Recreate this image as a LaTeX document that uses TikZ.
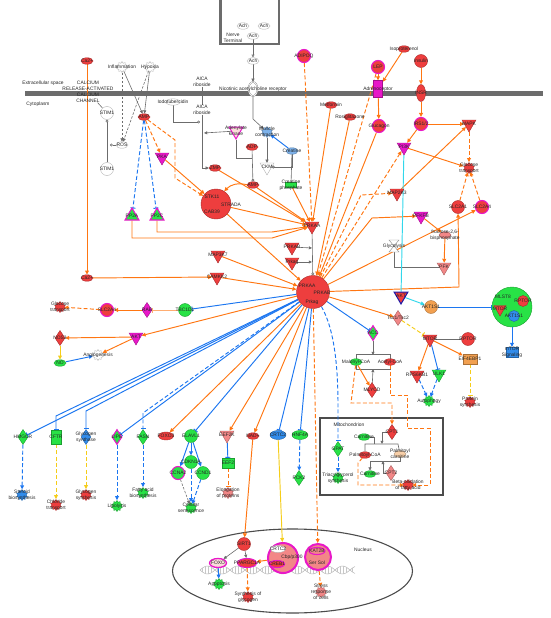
\documentclass[tikz,border=0pt]{standalone}
\usepackage{fontspec}
\setmainfont{Liberation Sans}
\usetikzlibrary{shapes.geometric,arrows.meta}
\pgfdeclarelayer{bg}
\pgfdeclarelayer{edges}
\pgfsetlayers{bg,edges,main}
\definecolor{cRed}{RGB}{238,62,62}
\definecolor{cPink}{RGB}{242,135,135}
\definecolor{cGreen}{RGB}{40,226,70}
\definecolor{cBlue}{RGB}{50,140,235}
\definecolor{cLBlue}{RGB}{125,178,235}
\definecolor{cOrng}{RGB}{242,160,80}
\definecolor{cMag}{RGB}{232,24,200}
\definecolor{cGray}{RGB}{108,108,108}
\colorlet{cPale}{cPink!30}
\colorlet{cPeach}{cOrng!50}
\definecolor{lOrng}{RGB}{255,118,18}
\definecolor{lBlue}{RGB}{28,118,240}
\definecolor{lYell}{RGB}{245,205,25}
\definecolor{lCyan}{RGB}{50,215,235}
\definecolor{lNavy}{RGB}{25,25,170}
\begin{document}
\begin{tikzpicture}[x=1pt,y=-1pt,
  every node/.style={font=\fontsize{4.9}{5.8}\selectfont,inner sep=0pt,text=black!85},
  lbl/.style={label={[align=center]center:{#1}}},
  chem/.style={ellipse,draw=#1!70!black,fill=#1,minimum width=12pt,minimum height=6.5pt},
  gene/.style={circle,draw=#1!70!black,fill=#1,minimum size=13pt},
  kin/.style={regular polygon,regular polygon sides=3,shape border rotate=180,draw=#1!70!black,fill=#1,minimum size=16pt},
  phos/.style={regular polygon,regular polygon sides=3,draw=#1!70!black,fill=#1,minimum size=16pt},
  enz/.style={diamond,draw=#1!70!black,fill=#1,minimum width=10pt,minimum height=15pt},
  chan/.style={rectangle,draw=#1!70!black,fill=#1,minimum width=11pt,minimum height=8pt},
  func/.style={star,star points=10,star point ratio=1.4,draw=#1!70!black,fill=#1,minimum size=11pt},
  cplx/.style={circle,draw=#1!70!black,fill=#1},
  mag/.style={draw=cMag,line width=1.1pt},
  ln/.style={line width=0.95pt},
  oa/.style={ln,draw=lOrng,-{Triangle[length=4pt,width=3.8pt]}},
  oad/.style={oa,dash pattern=on 4pt off 2.2pt},
  oid/.style={ln,draw=lOrng,dash pattern=on 4pt off 2.2pt,-{Bar[width=5pt]}},
  ba/.style={ln,draw=lBlue,-{Triangle[length=4pt,width=3.8pt]}},
  bad/.style={ba,dash pattern=on 4pt off 2.2pt},
  bi/.style={ln,draw=lBlue,-{Bar[width=5pt]}},
  bid/.style={bi,dash pattern=on 4pt off 2.2pt},
  ya/.style={ln,draw=lYell,-{Triangle[length=4pt,width=3.8pt]}},
  yad/.style={ya,dash pattern=on 4pt off 2.2pt},
  yid/.style={ln,draw=lYell,dash pattern=on 4pt off 2.2pt,-{Bar[width=5pt]}},
  ca/.style={ln,draw=lCyan,-{Triangle[length=4pt,width=3.8pt]}},
  gl/.style={line width=0.6pt,draw=cGray},
  ga/.style={gl,-{Triangle[length=3.2pt,width=3pt]}},
  gad/.style={ga,dash pattern=on 2.5pt off 1.5pt},
  gc/.style={gl,-{Circle[open,length=2.8pt]}}]
  \useasboundingbox (0,0) rectangle (550,618);
  \begin{pgfonlayer}{bg}
    \fill[cGray] (25,90.5) rectangle (543,95.5);
    \draw[cGray,line width=2.4pt] (220.5,0) -- (220.5,44) -- (279,44) -- (279,0);
    \draw[black!70,line width=1.1pt] (292.5,571) ellipse [x radius=120,y radius=42];
    \draw[black!70,line width=1.1pt] (320,418) rectangle (443,495);
    \draw[black!30,line width=0.5pt] plot[domain=200:355,samples=120] (\x,{570+4*sin(12*(\x-200))});
    \draw[black!30,line width=0.5pt] plot[domain=200:355,samples=120] (\x,{570-4*sin(12*(\x-200))});
    \foreach \k in {202,205,...,353}
      \draw[black!22,line width=0.3pt] (\k,{570+4*sin(12*(\k-200))}) -- (\k,{570-4*sin(12*(\k-200))});
  \end{pgfonlayer}
  % outside and membrane
  \draw (233,38) node[align=center] (nterm){Nerve\\Terminal}
        (243,26) node[chem=white,lbl=Ach] (ach1){}
        (264,26) node[chem=white,lbl=Ach] (ach2){}
        (253,36) node[chem=white,lbl=Ach] (ach3){}
        (253,61) node[chem=white,lbl=Ach] (ach4){}
        (253,89) node[ellipse,draw=black!50,double,fill=white,minimum width=9pt,minimum height=14pt,lbl={Nicotinic acetylcholine receptor}] (nachr){}
        (43,83) node (ecs){Extracellular space}
        (38,104) node (cyto){Cytoplasm}
        (88,92) node[align=center] (crac){CALCIUM\\RELEASE-ACTIVATED\\CALCIUM\\CHANNEL}
        (87,61) node[chem=cRed,lbl=Ca2+] (ca1){}
        (122,67) node[func=white,lbl=Inflammation] (inflam){}
        (150,67) node[func=white,lbl=Hypoxia] (hypox){}
        (202,82) node[align=center] (aica1){AICA\\riboside}
        (304,56) node[gene=cRed,mag,lbl=ADIPOQ] (adipoq){}
        (378,67) node[gene=cRed,mag,lbl=LEP] (lep){}
        (404,49) node[chem=cRed,lbl=Isoproterenol] (iso){}
        (421,61) node[gene=cRed,lbl=Insulin] (insulin){}
        (378,89) node[chan=cMag,minimum width=9pt,minimum height=17pt,lbl=Adrenoceptor] (adrb){}
        (421,93) node[chem=cRed,minimum width=9pt,minimum height=17pt,lbl=INSR] (insr){};
  % upper cytoplasm
  \draw (107,113) node[gene=white,lbl=STIM1] (stim1a){}
        (107,169) node[gene=white,lbl=STIM1] (stim1b){}
        (122,145) node[chem=white,lbl=ROS] (ros){}
        (144,117) node[chem=cRed,lbl=AMP] (amp1){}
        (173,102) node[chem=white,minimum width=14pt,lbl=Iodotubercidin] (iodo){}
        (202,110) node[align=center] (aica2){AICA\\riboside}
        (236,131) node[kin=cPale,draw=cMag,line width=1pt,lbl={Adenylate\\kinase}] (adk){}
        (267,132) node[func=cLBlue,lbl={Muscle\\contraction}] (musc){}
        (292,151) node[chem=cLBlue,lbl=Creatine] (creat){}
        (252,147) node[chem=cRed,lbl=ADP] (adp){}
        (267,167) node[kin=white,lbl=CKM] (ckm){}
        (291,185) node[chan=cGreen,minimum height=5pt,lbl={Creatine\\phosphate}] (crp){}
        (253,185) node[chem=cRed,lbl=AMP] (amp2){}
        (215,168) node[chem=cRed,lbl=ZMP] (zmp){}
        (162,157) node[kin=cMag,lbl=PKA] (pka){}
        (132,216) node[phos=cGreen,mag,lbl=PP2A] (pp2a){}
        (157,216) node[phos=cGreen,mag,lbl=PP2C] (pp2c){}
        (216,204) node[cplx=cRed,minimum size=30pt] (lkb1){}
        (212,197) node (stk11){STK11}
        (231,205) node (strada){STRADA}
        (212,212) node (cab39){CAB39}
        (218,255) node[kin=cRed,lbl=MAP3K7] (map3k7){}
        (217,277) node[kin=cRed,lbl=CAMKK2] (camkk2){}
        (87,278) node[chem=cRed,lbl=Ca2+] (ca2){}
        (331,105) node[chem=cRed,lbl=Metformin] (metf){}
        (350,117) node[chem=cRed,lbl=Rosiglitazone] (rosi){}
        (379,126) node[gene=cRed,mag,lbl=Glucagon] (gluc){}
        (421,124) node[gene=cRed,mag,lbl=IRS1/2] (irs){}
        (404,147) node[kin=cMag,lbl=PI3K] (pi3k){}
        (469,124) node[kin=cRed,lbl=MAPK] (mapk){};
  % AMPK and glucose handling
  \draw (312,226) node[kin=cRed,lbl=PRKAA] (prkaa){}
        (292,247) node[kin=cRed,lbl=PRKAB] (prkab){}
        (292,262) node[kin=cRed,lbl=Prkag] (prkag){}
        (313,292) node[cplx=cRed,minimum size=33pt] (ampk){}
        (307,286) node (ampka){PRKAA}
        (322,293) node (ampkb){PRKAB}
        (312,302) node (ampkg){Prkag}
        (469,168) node[func=cRed,lbl={Glucose\\transport}] (gtrans){}
        (397,193) node[kin=cRed,lbl=MAP2K3] (map2k3){}
        (421,216) node[kin=cMag,lbl=PFKFB] (pfkfb){}
        (458,207) node[gene=cRed,lbl=SLC2A1] (slc2a1){}
        (482,207) node[gene=cRed,mag,lbl=SLC2A4] (slc2a4b){}
        (445,235) node[chem=cPink,lbl={fructose-2,6-\\bisphosphate}] (f26bp){}
        (444,267) node[kin=cPink,lbl=PFK] (pfk){};
  \draw[draw=black!45,fill=white] (389,240) -- (399,240) -- (389,252) -- (399,252) -- cycle;
  \draw (394,246) node (glyc){Glycolysis};
  % mTOR branch
  \draw (401,296) node[kin=cRed,draw=lNavy,line width=1pt,lbl=AKT] (akt2){}
        (431,307) node[gene=cOrng,lbl=AKT1S1] (akt1s1){}
        (512,307) node[cplx=cGreen,minimum size=40pt] (mtorc){}
        (503,297) node (mlst8){MLST8}
        (523,301) node[gene=cRed,minimum size=11pt,lbl=RPTOR] (rptor2){}
        (500,309) node[kin=cRed,minimum size=14pt,lbl=MTOR] (mtor2){}
        (514,316) node[gene=cBlue,minimum size=11pt,lbl=AKT1S1] (akt1s1b){}
        (512,352) node[chan=cBlue,minimum width=12pt,minimum height=10pt,lbl={mTOR\\Signaling}] (mtorsig){}
        (398,318) node[enz=cPink,lbl=Tsc1/Tsc2] (tsc){}
        (430,339) node[kin=cRed,lbl=MTOR] (mtor){}
        (468,339) node[gene=cRed,lbl=RPTOR] (rptor){}
        (417,375) node[kin=cRed,lbl=RPS6KB1] (rps6kb1){}
        (439,374) node[kin=cGreen,lbl=ULK1] (ulk1){}
        (470,359) node[chan=cOrng,minimum width=14pt,minimum height=10pt,lbl=EIF4EBP1] (eif4ebp1){}
        (429,401) node[func=cGreen,lbl=Autophagy] (autoph){}
        (470,402) node[func=cRed,lbl={Protein\\synthesis}] (protsyn){};
  % lipid branch and mitochondrion
  \draw (373,333) node[enz=cGreen,mag,lbl=ACC] (acc){}
        (356,362) node[chem=cGreen,lbl=Malonyl-CoA] (malcoa){}
        (390,362) node[chem=cRed,lbl=Acetyl-CoA] (acecoa){}
        (372,390) node[enz=cRed,lbl=MLYCD] (mlycd){}
        (349,425) node (mito){Mitochondrion}
        (392,432) node[enz=cRed,lbl=CPT1] (cpt1){}
        (364,437) node[chem=cGreen,lbl=Carnitine] (carn1){}
        (365,455) node[chem=cRed,lbl=Palmitoyl-CoA] (palcoa){}
        (400,454) node[chem=cPeach,lbl={Palmitoyl\\carnitine}] (palcarn){}
        (370,474) node[chem=cGreen,lbl=Carnitine] (carn2){}
        (391,473) node[enz=cPink,lbl=CPT2] (cpt2){}
        (408,485) node[func=cRed,lbl={Beta-oxidation\\of fatty acid}] (betaox){}
        (338,449) node[enz=cGreen,lbl=GPAT] (gpat){}
        (338,478) node[func=cGreen,lbl={Triacylglycerol\\synthesis}] (tag){};
  % left side
  \draw (60,307) node[func=cRed,lbl={Glucose\\transport}] (gtrans2){}
        (107,310) node[gene=cRed,mag,lbl=SLC2A4] (slc2a4){}
        (147,310) node[enz=cMag,lbl=RAB] (rab){}
        (185,310) node[gene=cGreen,lbl=TBC1D1] (tbc1d1){}
        (60,338) node[enz=cRed,lbl=NOS3] (nos3){}
        (136,337) node[kin=cMag,lbl=AKT] (akt){}
        (98,355) node[func=white,lbl=Angiogenesis] (angio){}
        (60,363) node[chem=cGreen,lbl=NO] (no){};
  % bottom row
  \draw (23,437) node[enz=cGreen,lbl=HMGCR] (hmgcr){}
        (56,437) node[chan=cGreen,minimum width=10pt,minimum height=14pt,lbl=CFTR] (cftr){}
        (86,437) node[enz=cBlue,lbl={Glycogen\\synthase}] (gys){}
        (117,437) node[enz=cGreen,mag,lbl=LIPE] (lipe){}
        (143,437) node[enz=cGreen,lbl=FASN] (fasn){}
        (166,436) node[chem=cRed,minimum width=15pt,minimum height=8pt,lbl=FOXO3] (foxo3){}
        (191,436) node[gene=cGreen,lbl=ELAVL1] (elavl1){}
        (191,462) node[gene=cGreen,lbl=CDKN1A] (cdkn1a){}
        (178,473) node[gene=cGreen,mag,lbl=CCNA2] (ccna2){}
        (203,473) node[gene=cGreen,lbl=CCND1] (ccnd1){}
        (191,508) node[func=cGreen,lbl={Cellular\\senescence}] (senes){}
        (227,435) node[kin=cPink,lbl=EEF2K] (eef2k){}
        (228,463) node[chan=cGreen,minimum width=12pt,minimum height=10pt,lbl=EEF2] (eef2){}
        (228,493) node[func=cPink,lbl={Elongation\\of proteins}] (elong){}
        (253,436) node[chem=cRed,lbl=NAD+] (nad){}
        (278,435) node[chem=cBlue,minimum width=16pt,minimum height=9pt,lbl=CRTC2] (crtc2){}
        (300,435) node[chem=cGreen,minimum width=16pt,minimum height=9pt,lbl=HNF4A] (hnf4a){}
        (299,478) node[enz=cGreen,lbl=PCK2] (pck){}
        (22,495) node[func=cBlue,lbl={Steroid\\biosynthesis}] (steroid){}
        (56,505) node[func=cRed,lbl={Chloride\\transport}] (chlor){}
        (86,495) node[func=cRed,lbl={Glycogen\\synthesis}] (glysyn){}
        (117,506) node[func=cGreen,lbl=Lipolysis] (lipol){}
        (143,493) node[func=cGreen,lbl={Fatty acid\\biosynthesis}] (fabio){};
  % nucleus
  \draw (363,550) node (nucl){Nucleus}
        (244,544) node[gene=cRed,lbl=SIRT1] (sirt1){}
        (218,563) node[chem=cPale,draw=cMag,line width=1.3pt,minimum width=17pt,minimum height=9pt,lbl=FOXO] (foxo){}
        (247,563) node[chem=cRed,mag,minimum width=19pt,minimum height=9pt,lbl=PPARGC1A] (pgc1a){}
        (219,584) node[func=cGreen,lbl=Apoptosis] (apopt){}
        (248,597) node[func=cRed,lbl={Synthesis of\\glycogen}] (glysyn2){}
        (283,558) node[cplx=cPink,draw=cMag,line width=2pt,minimum size=30pt] (crebcx){}
        (278,549) node[chem=white,minimum width=15pt,minimum height=7pt,lbl=CRTC2] (crtc2b){}
        (292,557) node (cbp){Cbp/p300}
        (277,564) node[chem=cRed,mag,minimum width=15pt,minimum height=7pt,lbl=CREB1] (creb1){}
        (318,557) node[cplx=cPink,draw=cMag,line width=2pt,minimum size=26pt] (katcx){}
        (317,551) node[chem=cPink,mag,minimum width=16pt,minimum height=7pt,lbl=KAT2B] (kat2b){}
        (317,563) node (sersol){Ser Sol}
        (321,592) node[func=cPink,lbl={Stress\\response\\of cells}] (stress){};
  \coordinate (rosend) at (110,145);
  \coordinate (iodoend) at (200,122);
  \coordinate (adkend) at (204,133);
  \coordinate (jab) at (312,248);
  \coordinate (jag) at (312,262);
  \coordinate (rxa) at (373,355);
  \coordinate (rxb) at (373,369);
  \coordinate (rxc) at (382,444);
  \coordinate (rxd) at (383,461);
  \begin{pgfonlayer}{edges}
    \draw[gl,-{Triangle[open,length=3pt,width=3pt]}] (ach3) -- (ach4);
    \draw[ga] (ach4) -- (nachr);
    \draw[ga] (nachr) -- (253,119) -- (musc);
    \draw[ga] (inflam) -- (amp1);
    \draw[ga] (hypox) -- (amp1);
    \draw[gad] (inflam) -- (ros);
    \draw[gad] (hypox) -- (ros);
    \draw[gc] (ros) -- (rosend);
    \draw[gl] (stim1a) -- (crac);
    \draw[gc] (stim1b) -- (stim1a);
    \draw[gl] (aica1) -- (aica2);
    \draw[ga] (aica2) -- (202,168) -- (zmp);
    \draw[gc] (iodo) |- (iodoend);
    \draw[ga] (adk) -- (adkend);
    \draw[gl] (adk) |- (252,158);
    \draw[gc] (adp) -- (amp2);
    \draw[ga] (musc) -- (ckm);
    \draw[gc] (creat) |- (ckm);
    \draw[gl] (creat) -- (crp);
    \draw[bi,-{Triangle[length=4pt,width=3.8pt]}] (creat) -- (musc);
    \draw[gc] (prkaa) -- (ampk);
    \draw[ga] (prkab) -- (jab);
    \draw[ga] (prkag) -- (jag);
    \draw[ga] (pfk) -| (glyc);
    \draw[gl] (mtor) -- (rptor);
    \draw[gl] (malcoa.north) -- ++(0,-4) -| (acecoa.north);
    \draw[gl] (malcoa.south) -- ++(0,4) -| (acecoa.south);
    \draw[ga] (acc) -- (rxa);
    \draw[ga] (mlycd) -- (rxb);
    \draw[gl] (palcoa) |- (398,444) -- (palcarn);
    \draw[gl] (carn1) -| (374,444);
    \draw[ga] (cpt1) -| (rxc);
    \draw[ga] (palcarn) |- (370,461) -- (carn2);
    \draw[ga] (cpt2) -| (rxd);
    % activation in orange
    \draw[oa] (ca1) -- (ca2);
    \draw[oa] (ca2) -- (camkk2);
    \draw[oad] (amp1) -- (pka);
    \draw[oad] (amp1) -- (175,140) -- (175,178) -- (lkb1);
    \draw[oa] (pka) -- (lkb1);
    \draw[bid] (amp1) -- (pp2a);
    \draw[bid] (amp1) -- (pp2c);
    \draw[oa] (pp2a) |- (272,238) -- (prkaa);
    \draw[oa] (pp2c) |- (272,232) -- (prkaa);
    \draw[oa] (lkb1) -- (prkaa);
    \draw[oa] (lkb1) -- (ampk);
    \draw[oa] (zmp) -- (prkaa);
    \draw[oa] (amp2) -- (prkaa);
    \draw[oa] (amp2) to[bend right=30] (lkb1);
    \draw[oa] (crp) -- (prkaa);
    \draw[oa] (map3k7) -- (ampk);
    \draw[oa] (camkk2) -- (ampk);
    \draw[oad] (adipoq) -- (prkaa);
    \draw[oa] (metf) -- (prkaa);
    \draw[oa] (rosi) -- (ampk);
    \draw[oad] (lep) -- (ampk);
    \draw[oa] (gluc) -- (ampk);
    \draw[oa] (iso) -- (adrb);
    \draw[oa] (lep) -- (adrb);
    \draw[oa] (adrb) -- (gluc);
    \draw[oa] (insulin) -- (insr);
    \draw[oa] (insr) -- (irs);
    \draw[oa] (irs) -- (mapk);
    \draw[oa] (irs) -- (pi3k);
    \draw[oa] (pi3k) -- (gtrans);
    \draw[oa] (map2k3) -- (mapk);
    \draw[oad] (mapk) -- (gtrans);
    \draw[oad] (ampk) -- (pi3k);
    \draw[oad] (ampk) -- (361,195) -- (map2k3);
    \draw[oa] (ampk) -- (372,218) -- (pfkfb);
    \draw[oa] (pfkfb) -- (f26bp);
    \draw[oa] (f26bp) -- (pfk);
    \draw[oa] (ampk) -- (459,287) -- (slc2a1);
    \draw[oa] (ampk) -- (slc2a4b);
    \draw[oad] (slc2a1) -- (gtrans);
    \draw[oad] (slc2a4b) -- (gtrans);
    \draw[ln,draw=lCyan] (pi3k) -- (akt2);
    \draw[ca] (akt2) -- (akt1s1);
    \draw[bi] (akt1s1) -- (mtorc);
    \draw[ba] (mtorc) -- (mtorsig);
    \draw[oa] (ampk) -- (tsc);
    \draw[yid] (tsc) -- (mtor);
    \draw[oa] (mtor) -- (rps6kb1);
    \draw[bi] (mtor) -- (ulk1);
    \draw[oa] (mtor) -- (eif4ebp1);
    \draw[bad] (rps6kb1) -- (autoph);
    \draw[bad] (ulk1) -- (autoph);
    \draw[yid] (eif4ebp1) -- (protsyn);
    \draw[bi] (ampk) -- (acc);
    \draw[oa] (malcoa) -- (mlycd);
    \draw[oad] (malcoa) -- (351,403) -- (392,403) -- (cpt1);
    \draw[oad] (acecoa) -- (390,395) -- (407,395) -- (407,428) -- (430,428) -- (430,485) -- (betaox);
    \draw[oad] (palcoa) -- (358,463) -- (358,485) -- (betaox);
    \draw[bid] (ampk) .. controls (335,330) and (338,370) .. (338,405) -- (gpat);
    \draw[bad] (gpat) -- (tag);
    % left side
    \draw[oad] (slc2a4) -- (gtrans2);
    \draw[oa] (rab) -- (slc2a4);
    \draw[ln,draw=lOrng!60,-{Bar[width=5pt]}] (tbc1d1) -- (rab);
    \draw[bi] (ampk) -- (tbc1d1);
    \draw[oa] (ampk) -- (akt);
    \draw[oa] (akt) -- (nos3);
    \draw[oa] (akt) -- (angio);
    \draw[ya] (nos3) -- (no);
    \draw[ba] (no) -- (angio);
    % bottom row
    \draw[bi] (ampk) -- (hmgcr);
    \draw[bi] (ampk) -- (56,416) -- (cftr);
    \draw[bi] (ampk) -- (86,411) -- (gys);
    \draw[bi] (ampk) -- (lipe);
    \draw[bid] (ampk) -- (143,413) -- (fasn);
    \draw[oa] (ampk) -- (foxo3);
    \draw[bi] (ampk) -- (elavl1);
    \draw[oa] (ampk) -- (eef2k);
    \draw[oa] (ampk) -- (nad);
    \draw[bi] (ampk) -- (crtc2);
    \draw[bi] (ampk) -- (hnf4a);
    \draw[oad] (ampk) -- (katcx);
    \draw[bad] (hmgcr) -- (steroid);
    \draw[yad] (cftr) -- (chlor);
    \draw[yad] (gys) -- (glysyn);
    \draw[bad] (lipe) -- (lipol);
    \draw[bad] (fasn) -- (fabio);
    \draw[ba] (elavl1) -- (cdkn1a);
    \draw[ba] (elavl1) -- (ccna2);
    \draw[ba] (elavl1) -- (ccnd1);
    \draw[bad] (cdkn1a) -- (senes);
    \draw[gad] (ccna2) -- (senes);
    \draw[bad] (ccnd1) -- (senes);
    \draw[bi] (eef2k) -- (eef2);
    \draw[oid] (eef2) -- (elong);
    \draw[oa] (nad) -- (sirt1);
    \draw[ya] (crtc2) -- (crebcx);
    \draw[bad] (hnf4a) -- (pck);
    % nucleus
    \draw[ga] (sirt1) -- (foxo);
    \draw[ga] (sirt1) -- (pgc1a);
    \draw[oa] (crebcx) -- (pgc1a);
    \draw[ba] (foxo) -- (apopt);
    \draw[oad] (pgc1a) -- (glysyn2);
    \draw[oad] (katcx) -- (stress);
  \end{pgfonlayer}
\end{tikzpicture}
\end{document}
